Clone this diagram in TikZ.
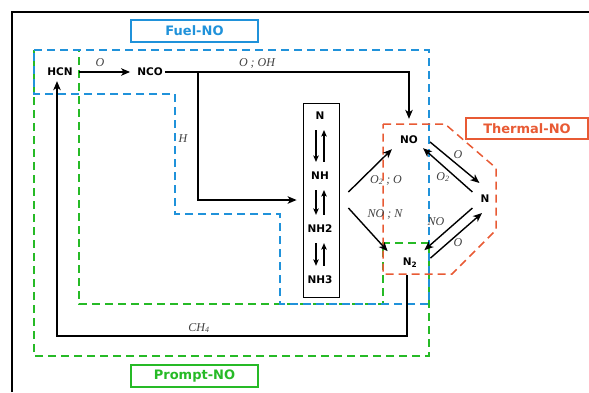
\documentclass[tikz,border=0pt]{standalone}
\usepackage{fontspec}
\newfontfamily\spfont{DejaVu Sans}
\newfontfamily\ratefont{Liberation Serif}
\usetikzlibrary{arrows.meta}
\definecolor{fuelc}{RGB}{32,146,218}
\definecolor{promptc}{RGB}{38,186,38}
\definecolor{thermc}{RGB}{232,90,52}

\begin{document}
\begin{tikzpicture}[x=1pt,y=-1pt,
  species/.style={font=\spfont\bfseries\fontsize{10.5}{12}\selectfont,inner sep=2pt},
  rate/.style={font=\ratefont\itshape\fontsize{12}{14}\selectfont,text=black!75},
  react/.style={line width=1.4pt,-{Stealth[length=9pt,width=7.5pt,inset=2.5pt]}},
  pair/.style={line width=1.3pt,shorten <=8pt,shorten >=8pt,-{Stealth[length=6.5pt,width=5.5pt,inset=1.5pt]}},
  zone/.style={line width=1.5pt,dash pattern=on 8pt off 5pt},
  tag/.style={draw,line width=1.5pt,font=\spfont\bfseries\fontsize{13}{15}\selectfont,
    minimum width=127pt,minimum height=22pt,inner sep=0pt}]
\useasboundingbox (0,0) rectangle (589,392);
\draw[line width=1.5pt] (12,392) -- (12,12) -- (589,12);

% zones
\draw[zone,promptc] (34,50) -- (79,50) -- (79,304) -- (383,304) -- (383,243) -- (429,243) -- (429,356) -- (34,356) -- cycle;
\draw[zone,fuelc] (34,50) -- (429,50) -- (429,304) -- (280,304) -- (280,214) -- (175,214) -- (175,94) -- (34,94) -- cycle;
\draw[zone,thermc] (383,124) -- (445,124) -- (496,168) -- (496,230) -- (452,274) -- (383,274) -- cycle;

\node[tag,fuelc] (fuel) at (194.5,31) {Fuel-NO};
\node[tag,promptc] (prompt) at (194.5,376) {Prompt-NO};
\node[tag,thermc,minimum width=122pt,minimum height=21pt] (therm) at (527,128.5) {Thermal-NO};

% species
\node[species] (hcn) at (60,72) {HCN};
\node[species] (nco) at (150,72) {NCO};
\node[species] (no) at (409,140) {NO};
\node[species] (n) at (485,199) {N};
\node[species] (n2) at (410,263) {N\textsubscript{2}};
\node[draw,line width=0.8pt,minimum width=36pt,minimum height=194pt,inner sep=0pt] (amine) at (321,200) {};
\foreach \lab/\y/\nm in {N/116/a,NH/176/b,NH2/229/c,NH3/280/d}
  \node[species] (\nm) at (320,\y) {\lab};
\foreach \p/\q in {a/b,b/c,c/d}{
  \draw[pair] ([xshift=-4pt]\p.south) -- ([xshift=-4pt]\q.north);
  \draw[pair] ([xshift=4pt]\q.north) -- ([xshift=4pt]\p.south);
}

% fuel route
\coordinate (split) at (198,72);
\coordinate (ch4) at (199,336);
\draw[react,shorten <=4pt,shorten >=5pt] (hcn) -- (nco);
\draw[react,shorten >=15pt] (nco.east) -| (no.north);
\draw[react,shorten >=6pt] (split) |- (amine.west);
\draw[react,shorten <=5pt,shorten >=3pt] ([xshift=-3pt]n2.south) |- (ch4) -| ([xshift=-3pt]hcn.south);

% thermal loop
\draw[react] ([xshift=9pt,yshift=8pt]amine.east) -- ([xshift=-6pt,yshift=-3pt]no.south west);
\draw[react] ([xshift=9pt,yshift=-8pt]amine.east) -- ([xshift=-13pt,yshift=5pt]n2.north west);
\draw[react] ([xshift=10pt,yshift=-2pt]no.east) -- ([xshift=1pt,yshift=10pt]n.north west);
\draw[react] ([xshift=-6pt,yshift=1pt]n.north west) -- ([xshift=3pt,yshift=-2pt]no.south east);
\draw[react] ([xshift=-6pt,yshift=-3pt]n.south west) -- ([xshift=5pt,yshift=6pt]n2.north east);
\draw[react] ([xshift=11pt,yshift=-2pt]n2.north east) -- ([xshift=-3pt,yshift=-8pt]n.south);

% rate labels
\node[rate] (r1) at (100,63) {O};
\node[rate] (r2) at (257,63) {O ; OH};
\node[rate] (r3) at (183,139) {H};
\node[rate] (r4) at (386,180) {O\textsubscript{2} ; O};
\node[rate] (r5) at (385,214) {NO ; N};
\node[rate] (r6) at (458,155) {O};
\node[rate] (r7) at (443,177) {O\textsubscript{2}};
\node[rate] (r8) at (436,222) {NO};
\node[rate] (r9) at (458,243) {O};
\node[rate] (r10) at (199,328) {CH\textsubscript{4}};
\end{tikzpicture}
\end{document}
